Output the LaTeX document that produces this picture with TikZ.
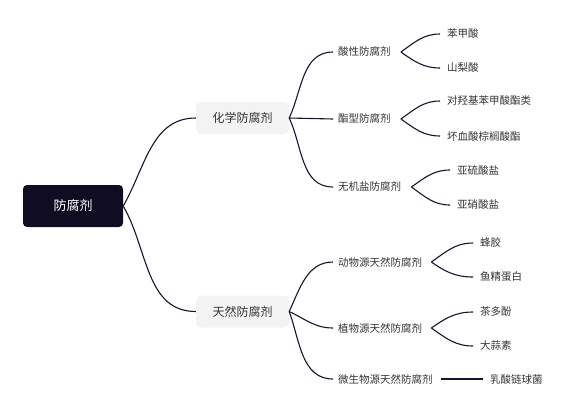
\documentclass[tikz,border=0pt]{standalone}
\usepackage{fontspec}
\setmainfont{Noto Sans CJK SC}
\usepackage{xcolor}
\usetikzlibrary{positioning}

\definecolor{rootfill}{HTML}{100D22}
\definecolor{topicfill}{HTML}{F3F3F3}
\definecolor{linkcol}{HTML}{17142E}
\definecolor{textcol}{HTML}{333333}

\begin{document}
\begin{tikzpicture}[x=1pt, y=-1pt,
  rootbox/.style={rectangle, rounded corners=4pt, fill=rootfill, text=white, minimum width=100pt, minimum height=42pt, font=\fontsize{13}{15}\selectfont},
  topicbox/.style={rectangle, rounded corners=5pt, fill=topicfill, text=textcol, minimum width=93pt, minimum height=32pt, font=\fontsize{12}{14}\selectfont},
  subtext/.style={anchor=west, inner xsep=5pt, inner ysep=2pt, text=textcol, font=\fontsize{10.5}{12}\selectfont},
  leaftext/.style={anchor=west, inner xsep=7pt, inner ysep=2pt, text=textcol, font=\fontsize{10.5}{12}\selectfont},
  link/.style={draw=linkcol, line width=1.1pt}
]
\useasboundingbox (0,0) rectangle (572,413);

% Root and main topics
\node[rootbox] (root) at (73,206) {防腐剂};
\node[topicbox] (chem) at (242.5,118) {化学防腐剂};
\node[topicbox] (natural) at (242.5,311.5) {天然防腐剂};

\draw[link] (root.east) to[out=60, in=180] (chem.west);
\draw[link] (root.east) to[out=-60, in=180] (natural.west);

% Chemical branch
\node[subtext] (acidic) at (333,52) {酸性防腐剂};
\node[subtext] (ester) at (333,119) {酯型防腐剂};
\node[subtext] (inorg) at (333,187) {无机盐防腐剂};
\draw[link] (chem.east) to[out=65, in=180] (acidic.west);
\draw[link] (chem.east) -- (ester.west);
\draw[link] (chem.east) to[out=-65, in=180] (inorg.west);

\node[leaftext] (benzoic) at (440,34) {苯甲酸};
\node[leaftext] (sorbic) at (440,68) {山梨酸};
\draw[link] ([xshift=5pt]acidic.east) to[out=35, in=180] (benzoic.west);
\draw[link] ([xshift=5pt]acidic.east) to[out=-35, in=180] (sorbic.west);

\node[leaftext] (paraben) at (440,101) {对羟基苯甲酸酯类};
\node[leaftext] (palmitate) at (440,136) {坏血酸棕榈酸酯};
\draw[link] ([xshift=5pt]ester.east) to[out=35, in=180] (paraben.west);
\draw[link] ([xshift=5pt]ester.east) to[out=-35, in=180] (palmitate.west);

\node[leaftext] (sulfite) at (450,170) {亚硫酸盐};
\node[leaftext] (nitrite) at (450,205) {亚硝酸盐};
\draw[link] ([xshift=5pt]inorg.east) to[out=35, in=180] (sulfite.west);
\draw[link] ([xshift=5pt]inorg.east) to[out=-35, in=180] (nitrite.west);

% Natural branch
\node[subtext] (animal) at (333,262) {动物源天然防腐剂};
\node[subtext] (plant) at (333,328) {植物源天然防腐剂};
\node[subtext] (microbe) at (333,379) {微生物源天然防腐剂};
\draw[link] (natural.east) to[out=65, in=180] (animal.west);
\draw[link] (natural.east) to[out=-25, in=180] (plant.west);
\draw[link] (natural.east) to[out=-70, in=180] (microbe.west);

\node[leaftext] (propolis) at (473,243) {蜂胶};
\node[leaftext] (protamine) at (473,277) {鱼精蛋白};
\draw[link] ([xshift=4pt]animal.east) to[out=35, in=180] (propolis.west);
\draw[link] ([xshift=4pt]animal.east) to[out=-35, in=180] (protamine.west);

\node[leaftext] (teapoly) at (473,312) {茶多酚};
\node[leaftext] (allicin) at (473,346) {大蒜素};
\draw[link] ([xshift=4pt]plant.east) to[out=35, in=180] (teapoly.west);
\draw[link] ([xshift=4pt]plant.east) to[out=-35, in=180] (allicin.west);

\node[leaftext] (nisin) at (483,379) {乳酸链球菌};
\draw[link] ([xshift=3pt]microbe.east) -- (nisin.west);

\end{tikzpicture}
\end{document}
